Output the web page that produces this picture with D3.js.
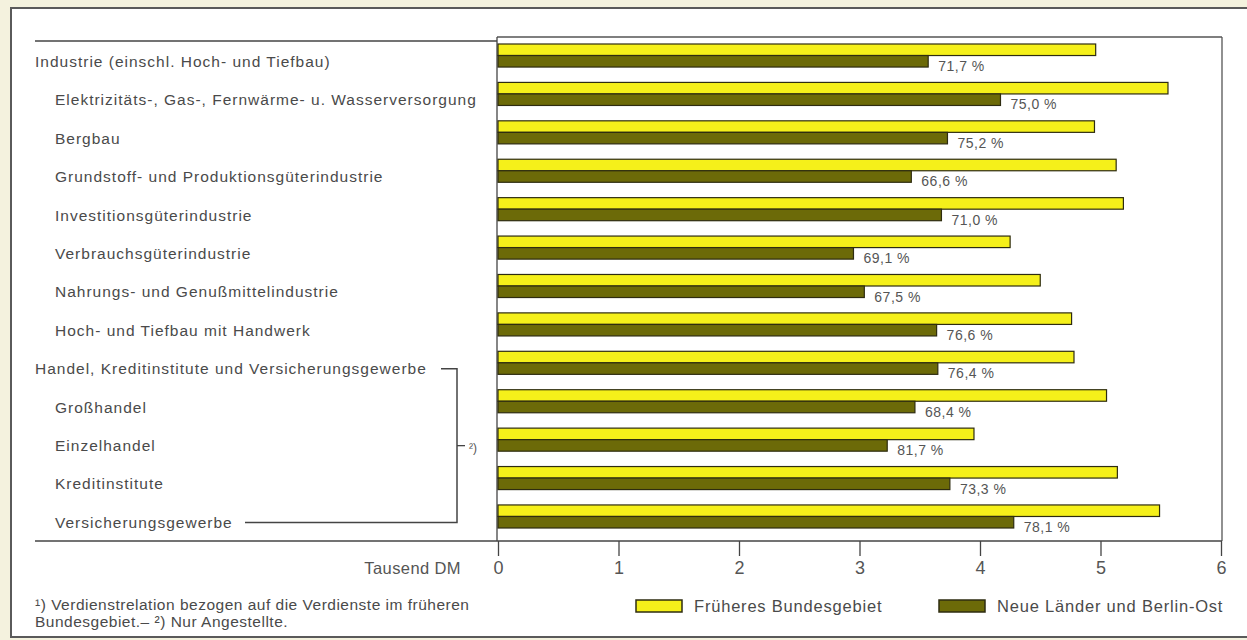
<!DOCTYPE html>
<html>
<head>
<meta charset="utf-8">
<script src="https://cdn.jsdelivr.net/npm/d3@7"></script>
<style>
  body { margin: 0; background: #f4f2de; }
  svg { display: block; font-family: "Liberation Sans", Arial, sans-serif; }
</style>
</head>
<body>
<svg id="chart" width="1247" height="640"></svg>
<script>
var categories = [
  "Industrie (einschl. Hoch- und Tiefbau)",
  "Elektrizitäts-, Gas-, Fernwärme- u. Wasserversorgung",
  "Bergbau",
  "Grundstoff- und Produktionsgüterindustrie",
  "Investitionsgüterindustrie",
  "Verbrauchsgüterindustrie",
  "Nahrungs- und Genußmittelindustrie",
  "Hoch- und Tiefbau mit Handwerk",
  "Handel, Kreditinstitute und Versicherungsgewerbe",
  "Großhandel",
  "Einzelhandel",
  "Kreditinstitute",
  "Versicherungsgewerbe"
];
var levels = [0, 1, 1, 1, 1, 1, 1, 1, 0, 1, 1, 1, 1];
var westValues = [4.96, 5.56, 4.95, 5.13, 5.19, 4.25, 4.50, 4.76, 4.78, 5.05, 3.95, 5.14, 5.49];
var eastValues = [3.57, 4.17, 3.73, 3.43, 3.68, 2.95, 3.04, 3.64, 3.65, 3.46, 3.23, 3.75, 4.28];
var relationLabels = ["71,7 %", "75,0 %", "75,2 %", "66,6 %", "71,0 %", "69,1 %", "67,5 %",
                      "76,6 %", "76,4 %", "68,4 %", "81,7 %", "73,3 %", "78,1 %"];
var series = ["Früheres Bundesgebiet", "Neue Länder und Berlin-Ost"];
var colors = ["#f5f01a", "#6c6a08"];
var ticks = [0, 1, 2, 3, 4, 5, 6];

var svg = d3.select("#chart");
var ink = "#4a4a4a";

// panel
svg.append("rect")
    .attr("x", 11).attr("y", 8)
    .attr("width", 1250).attr("height", 629)
    .attr("fill", "#ffffff")
    .attr("stroke", "#5a5a5a")
    .attr("stroke-width", 2);

var x = d3.scaleLinear().domain([0, 6]).range([498, 1221]);
var y = d3.scaleBand().domain(categories).range([44, 528]).paddingInner(0.4).paddingOuter(0);
var ySub = d3.scaleBand().domain(series).range([0, y.bandwidth()]);

var axisY = 541;

// frame lines
svg.append("line").attr("x1", 35).attr("x2", 497).attr("y1", 41).attr("y2", 41)
    .attr("stroke", "#444").attr("stroke-width", 1.5);
svg.append("line").attr("x1", 497).attr("x2", 1222).attr("y1", 37).attr("y2", 37)
    .attr("stroke", "#555").attr("stroke-width", 1.3);
svg.append("line").attr("x1", 1222).attr("x2", 1222).attr("y1", 37).attr("y2", axisY)
    .attr("stroke", "#555").attr("stroke-width", 1.3);
svg.append("line").attr("x1", 497).attr("x2", 497).attr("y1", 37).attr("y2", axisY)
    .attr("stroke", "#444").attr("stroke-width", 1.3);
svg.append("line").attr("x1", 35).attr("x2", 1222).attr("y1", axisY).attr("y2", axisY)
    .attr("stroke", "#444").attr("stroke-width", 1.5);

// axis
var axis = svg.append("g")
    .attr("transform", "translate(0," + axisY + ")")
    .call(d3.axisBottom(x).tickValues(ticks).tickSize(15).tickPadding(5).tickFormat(d3.format("d")));
axis.select(".domain").remove();
axis.selectAll(".tick line").attr("stroke", "#444").attr("stroke-width", 1.3);
axis.selectAll(".tick text")
    .attr("font-size", 18)
    .attr("font-family", "Liberation Sans, Arial, sans-serif")
    .attr("fill", "#555");

svg.append("text")
    .attr("x", 461).attr("y", 574)
    .attr("text-anchor", "end")
    .attr("font-size", 16.5)
    .attr("letter-spacing", 0.4)
    .attr("fill", "#555")
    .text("Tausend DM");

// category labels
svg.append("g").selectAll("text")
  .data(categories)
  .join("text")
    .attr("x", (d, i) => levels[i] ? 55 : 35)
    .attr("y", d => y(d) + y.bandwidth() / 2 + 6)
    .attr("dy", "0.35em")
    .attr("font-size", 15.5)
    .attr("letter-spacing", 1)
    .attr("fill", ink)
    .text(d => d);

// bars
var rows = categories.map((c, i) => ({cat: c, vals: [westValues[i], eastValues[i]], label: relationLabels[i]}));

var groups = svg.append("g").selectAll("g")
  .data(rows)
  .join("g")
    .attr("transform", d => "translate(0," + y(d.cat) + ")");

groups.selectAll("rect")
  .data(d => d.vals.map((v, j) => ({s: series[j], v: v, j: j})))
  .join("rect")
    .attr("x", x(0))
    .attr("y", d => ySub(d.s))
    .attr("width", d => x(d.v) - x(0))
    .attr("height", ySub.bandwidth())
    .attr("fill", d => colors[d.j])
    .attr("stroke", "#2e2c10")
    .attr("stroke-width", 1.2);

groups.append("text")
    .attr("x", d => x(d.vals[1]) + 10)
    .attr("y", d => ySub(series[1]) + ySub.bandwidth() + 4)
    .attr("font-size", 14)
    .attr("letter-spacing", 0.5)
    .attr("fill", "#555")
    .text(d => d.label);

// bracket for Handel group
var yTop = y(categories[8]) + y.bandwidth() / 2 + 6;
var yBot = y(categories[12]) + y.bandwidth() / 2 + 6;
var bx = 457;
svg.append("path")
    .attr("d", "M441," + yTop + "H" + bx + "V" + yBot + "H245")
    .attr("fill", "none")
    .attr("stroke", "#444")
    .attr("stroke-width", 1.5);
svg.append("line")
    .attr("x1", bx).attr("x2", bx + 8)
    .attr("y1", (yTop + yBot) / 2).attr("y2", (yTop + yBot) / 2)
    .attr("stroke", "#444").attr("stroke-width", 1.3);
svg.append("text")
    .attr("x", bx + 12).attr("y", (yTop + yBot) / 2 + 6)
    .attr("font-size", 12)
    .attr("fill", "#555")
    .text("²)");

// footnote
var foot = svg.append("text").attr("font-size", 15.5).attr("letter-spacing", 0.5).attr("fill", ink);
foot.append("tspan").attr("x", 35).attr("y", 610).text("¹) Verdienstrelation bezogen auf die Verdienste im früheren");
foot.append("tspan").attr("x", 35).attr("y", 627).text("Bundesgebiet.– ²) Nur Angestellte.");

// legend
var legendX = [636, 939];
var legend = svg.append("g").selectAll("g")
  .data(series)
  .join("g")
    .attr("transform", (d, i) => "translate(" + legendX[i] + ",600)");
legend.append("rect")
    .attr("width", 46).attr("height", 12)
    .attr("fill", (d, i) => colors[i])
    .attr("stroke", "#2e2c10")
    .attr("stroke-width", 1.5);
legend.append("text")
    .attr("x", 58).attr("y", 6)
    .attr("dy", "0.35em")
    .attr("font-size", 16.5)
    .attr("letter-spacing", 0.8)
    .attr("fill", ink)
    .text(d => d);
</script>
</body>
</html>
